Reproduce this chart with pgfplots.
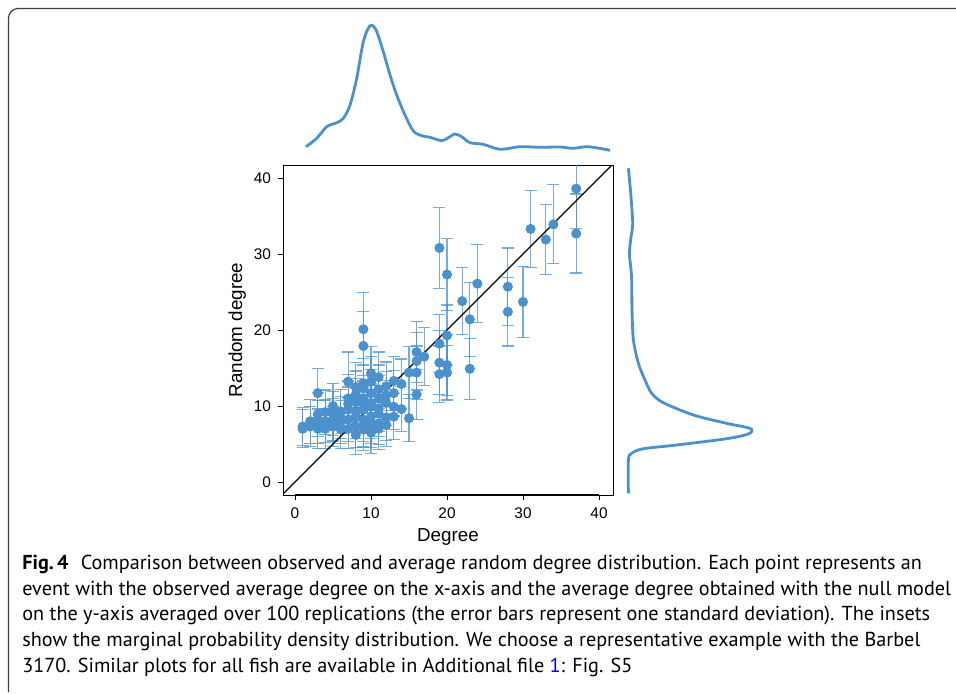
\documentclass[border=0pt]{standalone}
\usepackage{fontspec}
\setmainfont{Liberation Sans}
\newfontfamily\capfont{PT Sans}
\usepackage{pgfplots}
\usepackage{pgfplotstable}
\pgfplotsset{compat=1.18}
\definecolor{dotblue}{RGB}{75,145,205}

% observed degree, random degree, std
\pgfplotstableread{
x y e
37 38.6 5.2
37 32.7 5.2
34 33.9 5.2
33 31.9 4.6
31 33.3 5.1
30 23.7 4.7
28 25.7 5.1
28 22.4 4.5
24 26.1 5.1
22 23.8 4.4
23 21.4 4.9
23 14.9 4.0
19 30.8 5.3
20 27.3 4.7
20 19.3 4.0
19 18.2 3.8
19 15.7 4.2
19 14.2 3.7
20 15.4 4.0
20 14.4 3.6
16 17.1 4.0
16 15.9 3.8
16 14.4 3.5
16 11.5 3.3
17 16.5 3.8
15 14.4 3.4
15 8.4 3.1
14 12.9 3.3
14 9.6 3.0
13 13.3 3.2
13 11.7 3.0
13 9.9 3.0
13 8.6 3.0
12 12.6 3.2
12 11.4 3.1
12 10.4 3.0
12 8.5 3.0
12 7.5 2.8
11 13.8 3.3
11 12.2 3.2
11 11.0 3.0
11 9.7 3.0
11 9.0 3.0
11 7.7 2.8
11 7.0 2.7
10 14.3 3.5
10 13.2 3.3
10 11.7 3.1
10 10.4 3.0
10 9.9 3.0
10 8.6 2.9
10 7.9 2.8
10 7.3 2.8
10 6.5 2.7
9 20.1 4.8
9 17.9 4.5
9 13.0 3.3
9 12.3 3.2
9 11.0 3.0
9 10.2 3.0
9 9.5 3.0
9 8.2 2.9
9 7.4 2.8
9 6.9 2.7
8 12.5 3.2
8 11.5 3.1
8 10.6 3.0
8 9.4 2.9
8 8.6 2.9
8 7.3 2.8
8 6.2 2.6
7 13.2 3.9
7 11.0 3.1
7 10.3 3.0
7 9.5 3.0
7 8.2 2.9
7 7.0 2.6
6 9.3 2.9
6 8.5 2.8
6 7.9 2.8
6 7.0 2.6
5 10.0 3.0
5 9.0 2.9
5 8.2 2.8
5 7.3 2.6
4 9.2 2.9
4 8.0 2.8
4 7.0 2.6
3 11.7 3.2
3 8.9 2.9
3 7.9 2.8
3 7.0 2.6
2 8.0 2.9
2 7.3 2.6
1 7.3 2.5
1 7.0 2.5
}\scatterdata

% marginal density of observed degree
\pgfplotstableread{
x d
1.45 0.0053
2.86 0.0137
4.17 0.0253
5.49 0.0293
6.36 0.0337
7.24 0.047
8.12 0.0737
8.99 0.1103
9.87 0.1263
10.66 0.122
11.62 0.1003
12.5 0.077
13.38 0.057
14.47 0.037
15.57 0.021
16.67 0.0163
17.76 0.0147
19.30 0.0113
20.17 0.0143
21.05 0.018
21.93 0.0153
23.03 0.0093
24.78 0.0077
26.97 0.0027
29.61 0.0053
32.24 0.0047
34.87 0.005
36.62 0.0037
38.59 0.0053
41.45 0.0017
}\topdens

% marginal density of random degree
\pgfplotstableread{
d y
0.0017 41.28
0.004 37.99
0.006 34.04
0.0043 32.28
0.0027 30.09
0.004 28.33
0.005 26.58
0.0053 22.63
0.0067 18.68
0.0117 15.62
0.0183 13.42
0.025 11.67
0.0367 10.43
0.0667 8.82
0.1 7.72
0.1167 7.28
0.125 6.93
0.1217 6.32
0.1 5.70
0.05 4.87
0.0167 4.38
0.005 3.78
0.0017 2.89
0.0017 -1.49
}\rightdens

\begin{document}
\begin{tikzpicture}
\path[use as bounding box] (0,0) rectangle (478pt,-346.5pt);
\draw[black!75, line width=0.6pt, rounded corners=5pt] (4.2pt,-346pt) -- (4.2pt,-4.2pt) -- (490pt,-4.2pt);

\begin{axis}[
    at={(141.5pt,-247.5pt)}, anchor=south west,
    scale only axis, width=165pt, height=165pt,
    xmin=-1.58, xmax=41.84, ymin=-1.71, ymax=41.71,
    xtick={0,10,20,30,40}, ytick={0,10,20,30,40},
    xtick pos=bottom, ytick pos=left,
    tick align=outside, major tick length=2.5pt,
    tick style={black, line width=0.5pt},
    axis line style={black, line width=0.5pt},
    /pgf/number format/assume math mode=true,
    tick label style={font=\fontsize{7.7pt}{8pt}\selectfont},
    xticklabel style={yshift=-0.5pt},
    xlabel={Degree}, ylabel={Random degree},
    label style={font=\fontsize{9.4pt}{10pt}\selectfont},
    xlabel style={yshift=2pt},
    ylabel style={yshift=-3pt},
]
\addplot[only marks, mark=none, error bars/.cd, y dir=both, y explicit,
    error bar style={dotblue, opacity=0.75, line width=0.6pt},
    error mark options={dotblue, rotate=90, mark size=3pt, line width=0.6pt, opacity=0.75}]
    table[x=x, y=y, y error=e] {\scatterdata};
\addplot[color=dotblue, only marks, mark=*, mark size=2.3pt, mark options={fill=dotblue}]
    table[x=x, y=y] {\scatterdata};
\addplot[black, line width=0.6pt] coordinates {(-2,-2) (42,42)};
\draw[black, line width=1.1pt] (axis cs:0,-1.71) -- (axis cs:40,-1.71);
\end{axis}

\begin{axis}[
    at={(141.5pt,-76pt)}, anchor=south west,
    scale only axis, width=165pt, height=66pt,
    xmin=-1.58, xmax=41.84, ymin=0, ymax=0.132,
    hide axis, clip=false,
]
\addplot[dotblue, line width=1.4pt, smooth] table[x=x, y=d] {\topdens};
\end{axis}

\begin{axis}[
    at={(313.35pt,-247.5pt)}, anchor=south west,
    scale only axis, width=65pt, height=165pt,
    xmin=0, xmax=0.13, ymin=-1.71, ymax=41.71,
    hide axis, clip=false,
]
\addplot[dotblue, line width=1.4pt, smooth] table[x=d, y=y] {\rightdens};
\end{axis}

\begin{scope}[every node/.style={anchor=base west, inner sep=0pt, font=\capfont\fontsize{10.1pt}{11pt}\selectfont}]
\node at (11pt,-284.65pt) {\textbf{Fig.\,4}\hspace{0.6em}Comparison between observed and average random degree distribution. Each point represents an};
\node at (11pt,-297.55pt) {event with the observed average degree on the x-axis and the average degree obtained with the null model};
\node at (11pt,-310.45pt) {on the y-axis averaged over 100 replications (the error bars represent one standard deviation). The insets};
\node at (11pt,-323.35pt) {show the marginal probability density distribution. We choose a representative example with the Barbel};
\node at (11pt,-336.25pt) {3170. Similar plots for all fish are available in Additional file \textcolor{blue}{1}: Fig. S5};
\end{scope}
\end{tikzpicture}
\end{document}
